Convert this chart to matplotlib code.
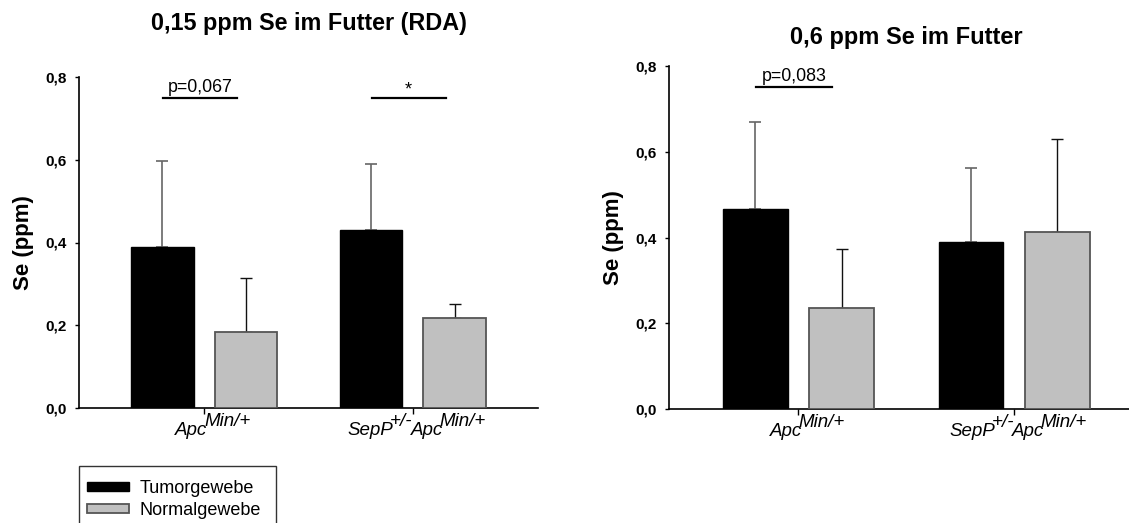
import matplotlib
matplotlib.use("Agg")
import matplotlib.pyplot as plt
from matplotlib.patches import Rectangle
import numpy as np

plt.rcParams["font.family"] = ["Liberation Sans", "DejaVu Sans"]

# Daten (Mittelwert und SD)
groups = [[("Apc", False), ("Min/+", True)],
          [("SepP", False), ("+/-", True), ("Apc", False), ("Min/+", True)]]
label_shift_px = [-29, -65]  # left edge of the label relative to tick

titles = ["0,15 ppm Se im Futter (RDA)", "0,6 ppm Se im Futter"]
tumor_mean = [[0.389, 0.430], [0.466, 0.390]]
tumor_sd = [[0.207, 0.160], [0.204, 0.171]]
normal_mean = [[0.184, 0.217], [0.236, 0.412]]
normal_sd = [[0.131, 0.035], [0.137, 0.218]]

# Signifikanz: (Gruppe, Text) je Panel
signif = [[(0, "p=0,067"), (1, "*")], [(0, "p=0,083")]]

yticks = [0.0, 0.2, 0.4, 0.6, 0.8]
ytick_labels = ["0,0", "0,2", "0,4", "0,6", "0,8"]

W, H = 1129, 523
fig = plt.figure(figsize=(W / 100, H / 100), dpi=100)
ax_l = fig.add_axes([79 / W, 1 - 408 / H, 459 / W, 331 / H])
ax_r = fig.add_axes([669 / W, 1 - 409 / H, 474.6 / W, 343 / H])

PX = 0.72  # points per pixel
x = np.arange(2)
offset, width = 0.2, 0.30

for i, ax in enumerate([ax_l, ax_r]):
    ax.bar(x - offset, tumor_mean[i], width, color="black",
           edgecolor="black", linewidth=1.0, zorder=3, label="Tumorgewebe")
    ax.bar(x + offset, normal_mean[i], width, color="#c0c0c0",
           edgecolor="#555555", linewidth=1.3, zorder=3, label="Normalgewebe")
    ax.errorbar(x - offset, tumor_mean[i], yerr=[np.zeros(2), tumor_sd[i]],
                fmt="none", ecolor="#666666", elinewidth=1.2, capsize=4,
                capthick=1.2, zorder=2)
    ax.errorbar(x + offset, normal_mean[i], yerr=[np.zeros(2), normal_sd[i]],
                fmt="none", ecolor="#111111", elinewidth=1.0, capsize=4,
                capthick=1.0, zorder=2)

    ax.set_xlim(-0.6, 1.6)
    ax.set_ylim(0, 0.8)
    ax.set_yticks(yticks)
    ax.set_yticklabels(ytick_labels, fontsize=11, fontweight="bold")
    ax.set_xticks(x)
    ax.set_xticklabels([])
    ax.tick_params(axis="y", direction="out", length=3, width=1, pad=6)
    ax.tick_params(axis="x", direction="out", length=4, width=1)
    for s in ["top", "right"]:
        ax.spines[s].set_visible(False)
    for s in ["left", "bottom"]:
        ax.spines[s].set_linewidth(1.2)

    ax.set_ylabel("Se (ppm)", fontsize=16, fontweight="bold", labelpad=8)
    ax.set_title(titles[i], fontsize=16.8 if i == 0 else 17, fontweight="bold",
                 pad=33.5 if i == 0 else 16)

    # x labels with superscripts
    trans = ax.get_xaxis_transform()
    for g, pieces in enumerate(groups):
        prev = None
        for txt, sup in pieces:
            dy = -18 * PX if sup else -27 * PX
            if prev is None:
                prev = ax.annotate(txt, xy=(x[g], 0), xycoords=trans,
                                   xytext=(label_shift_px[g] * PX, dy),
                                   textcoords="offset points", ha="left",
                                   va="baseline", fontsize=13.5, style="italic",
                                   annotation_clip=False)
            else:
                prev = ax.annotate(txt, xy=(1, 0), xycoords=(prev, trans),
                                   xytext=(-2.5 if sup else -1.5, dy),
                                   textcoords="offset points",
                                   ha="left", va="baseline", fontsize=13.5,
                                   style="italic", annotation_clip=False)

    # Signifikanzlinien
    for g, txt in signif[i]:
        ax.plot([x[g] - 0.195, x[g] + 0.157], [0.75, 0.75], color="black",
                linewidth=1.6, clip_on=False)
        if txt == "*":
            ax.text(x[g] - 0.02, 0.757, txt, ha="center", va="baseline",
                    fontsize=13)
        else:
            ax.text(x[g] - 0.02, 0.764, txt, ha="center", va="baseline",
                    fontsize=12.8)

# Legende
handles, labels = ax_l.get_legend_handles_labels()
fig.legend(handles, labels, loc="upper left",
           bbox_to_anchor=(87 / W, 1 - 480 / H), frameon=False, fontsize=13,
           borderpad=0, borderaxespad=0, handlelength=2.3, handleheight=0.4,
           handletextpad=0.6, labelspacing=0.25)
fig.patches.append(Rectangle((79 / W, -0.05), 197 / W, 0.05 + (1 - 466 / H),
                             transform=fig.transFigure, fill=False,
                             edgecolor="#333333", linewidth=1.0))

fig.savefig("out.png", dpi=100)
